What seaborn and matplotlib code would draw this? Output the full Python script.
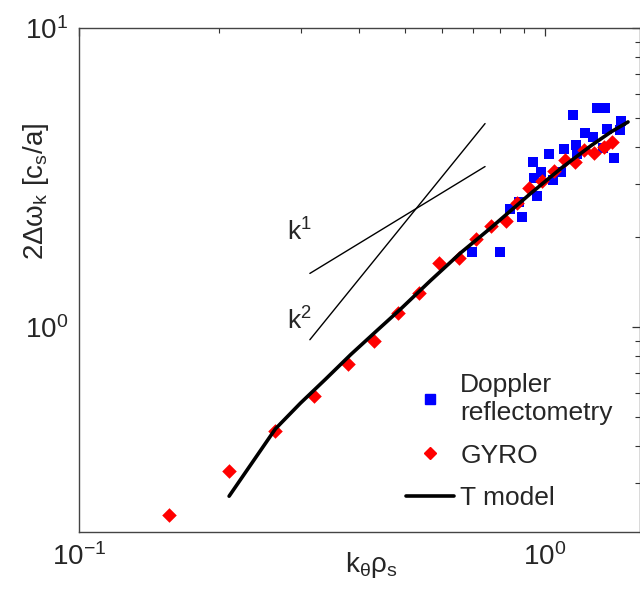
import numpy as np
import matplotlib
matplotlib.use("Agg")
import matplotlib.pyplot as plt
import matplotlib.ticker as mticker
from matplotlib.lines import Line2D
import seaborn as sns

# --- Data (log-log axes) ---
doppler_k = [0.697, 0.800, 0.841, 0.879, 0.892, 0.942, 0.961, 0.947, 0.980, 1.040,
             1.020, 1.082, 1.099, 1.149, 1.166, 1.172, 1.219, 1.268, 1.294, 1.346,
             1.359, 1.332, 1.407, 1.457, 1.450]
doppler_w = [1.785, 1.785, 2.48, 2.61, 2.33, 3.55, 2.74, 3.16, 3.29, 3.11,
             3.80, 3.29, 3.94, 5.11, 4.07, 3.80, 4.46, 4.32, 5.39, 5.39,
             4.60, 3.98, 3.68, 4.88, 4.56]

gyro_k = [0.156, 0.210, 0.264, 0.320, 0.377, 0.429, 0.485, 0.538, 0.594, 0.654,
          0.710, 0.765, 0.824, 0.873, 0.925, 0.985, 1.045, 1.104, 1.160, 1.215,
          1.276, 1.337, 1.390]
gyro_w = [0.235, 0.329, 0.449, 0.586, 0.754, 0.899, 1.11, 1.30, 1.63, 1.70,
          1.97, 2.18, 2.26, 2.60, 2.91, 3.08, 3.33, 3.62, 3.56, 3.91,
          3.82, 4.01, 4.16]

tmodel_k = [0.210, 0.2355, 0.264, 0.2988, 0.338, 0.383, 0.4375, 0.490, 0.5685, 0.660,
            0.765, 0.933, 1.082, 1.256, 1.386, 1.508]
tmodel_w = [0.2715, 0.352, 0.456, 0.556, 0.668, 0.808, 0.977, 1.147, 1.43, 1.771,
            2.143, 2.80, 3.39, 4.04, 4.49, 4.85]

# guide lines for k^1 and k^2 scaling
k1_k = [0.313, 0.744]
k1_w = [1.51, 3.44]
k2_k = [0.313, 0.744]
k2_w = [0.906, 4.79]

# --- Style ---
sns.set_theme(style="white")
plt.rcParams["font.family"] = ["Liberation Sans", "DejaVu Sans"]
plt.rcParams["mathtext.fontset"] = "custom"
plt.rcParams["mathtext.rm"] = "Liberation Sans"
plt.rcParams["mathtext.it"] = "Liberation Sans:italic"
plt.rcParams["mathtext.default"] = "regular"

fig = plt.figure(figsize=(6.4, 5.91), dpi=100)
ax = fig.add_axes([0.1234, 0.0998, 0.8766, 0.8528])

sns.lineplot(x=k1_k, y=k1_w, color="black", linewidth=1.0, sort=False, ax=ax)
sns.lineplot(x=k2_k, y=k2_w, color="black", linewidth=1.0, sort=False, ax=ax)
sns.scatterplot(x=doppler_k, y=doppler_w, marker="s", color="#0000ff", s=60,
                linewidth=0, ax=ax, zorder=3)
sns.scatterplot(x=gyro_k, y=gyro_w, marker="D", color="#ff0000", s=55,
                linewidth=0, ax=ax, zorder=4)
sns.lineplot(x=tmodel_k, y=tmodel_w, color="black", linewidth=2.6, sort=False,
             ax=ax, zorder=5)

ax.set_xscale("log")
ax.set_yscale("log")
ax.set_xlim(0.1, 1.6)
ax.set_ylim(0.206, 10)

ax.xaxis.set_minor_formatter(mticker.NullFormatter())
ax.yaxis.set_minor_formatter(mticker.NullFormatter())
ax.tick_params(which="both", direction="in", top=True, right=True,
               labelsize=20, pad=8, color="#333333")
ax.tick_params(which="major", length=6, width=0.9)
ax.tick_params(which="minor", length=3.5, width=0.8)
for sp in ax.spines.values():
    sp.set_color("#444444")
    sp.set_linewidth(1.0)

ax.set_xlabel(r"k$_\theta\rho_s$", fontsize=20)
ax.set_ylabel(r"2$\Delta\omega_k$ [c$_s$/a]", fontsize=20)
ax.xaxis.set_label_coords(0.522, -0.035)
ax.yaxis.set_label_coords(-0.05, 0.675)

ax.text(0.280, 1.95, r"k$^1$", fontsize=19, ha="left", va="baseline")
ax.text(0.279, 0.977, r"k$^2$", fontsize=19, ha="left", va="baseline")

handles = [
    Line2D([], [], marker="s", color="#0000ff", linestyle="none", markersize=6.5),
    Line2D([], [], marker="D", color="#ff0000", linestyle="none", markersize=6.5),
    Line2D([], [], color="black", linewidth=2.6),
]
labels = ["Doppler\nreflectometry", "GYRO", "T model"]
ax.legend(handles, labels, loc="upper left", bbox_to_anchor=(0.583, 0.315),
          frameon=False, fontsize=19, handlelength=1.8, handletextpad=0.25,
          labelspacing=0.7, borderpad=0, borderaxespad=0)

fig.savefig("out.png", dpi=100)
